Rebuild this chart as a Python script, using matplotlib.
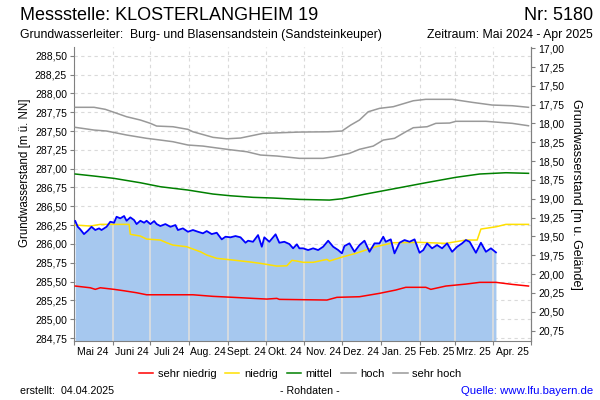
import numpy as np
import matplotlib
matplotlib.use("Agg")
import matplotlib.pyplot as plt

plt.rcParams['font.family'] = ['Liberation Sans', 'DejaVu Sans']

# ── Data (day offset from 01.05.2024, level in m ü. NN) ─────────────────
START = np.datetime64('2024-05-01')
GROUND = 305.60   # Geländehöhe, right axis = GROUND - level

messwert_d = [1, 3, 5, 8, 11, 14, 17, 20, 22, 26, 29, 32, 34, 37, 40, 42, 45, 48, 50, 53,
              56, 58, 61, 64, 66, 69, 73, 77, 81, 83, 87, 91, 95, 99, 103, 106, 110, 114, 118, 121,
              125, 129, 133, 137, 139, 143, 147, 150, 152, 156, 161, 164, 168, 172, 175, 178, 180, 183, 187, 191,
              195, 199, 203, 207, 211, 214, 216, 220, 224, 228, 232, 236, 240, 244, 247, 249, 253, 256, 260, 264,
              268, 272, 276, 279, 282, 286, 290, 294, 298, 302, 306, 310, 313, 316, 321, 325, 329, 333, 337]
messwert = [286.304, 286.228, 286.194, 286.131, 286.175, 286.228, 286.185, 286.207, 286.185, 286.228,
            286.295, 286.282, 286.361, 286.340, 286.371, 286.308, 286.353, 286.317, 286.264, 286.308,
            286.282, 286.308, 286.264, 286.304, 286.264, 286.238, 286.264, 286.228, 286.251, 286.185,
            286.207, 286.162, 286.185, 286.162, 286.141, 286.171, 286.131, 286.149, 286.061, 286.096,
            286.088, 286.105, 286.088, 286.016, 286.043, 286.029, 286.118, 285.963, 286.088, 286.029,
            286.128, 286.016, 286.029, 285.999, 285.942, 285.995, 285.942, 285.942, 285.919, 285.942,
            285.919, 285.963, 286.043, 285.963, 285.919, 285.875, 285.972, 286.008, 285.896, 285.985,
            286.043, 285.896, 286.008, 286.008, 286.096, 286.029, 286.061, 285.875, 286.016, 286.052,
            286.029, 286.061, 285.883, 285.919, 286.008, 285.942, 285.985, 285.942, 286.008, 285.896,
            285.963, 286.008, 286.052, 286.029, 285.883, 286.016, 285.896, 285.942, 285.888]

sehr_niedrig_d = [1, 13, 17, 21, 32, 40, 50, 58, 95, 111, 127, 143, 154, 162, 164, 202, 210, 228,
                  244, 257, 265, 281, 285, 297, 313, 324, 337, 350, 363]
sehr_niedrig = [285.441, 285.418, 285.397, 285.418, 285.397, 285.378, 285.352, 285.325, 285.325,
                285.304, 285.291, 285.277, 285.268, 285.277, 285.264, 285.255, 285.291, 285.299,
                285.344, 285.388, 285.424, 285.424, 285.397, 285.441, 285.467, 285.490, 285.490,
                285.463, 285.441]

niedrig_d = [1, 13, 21, 44, 45, 53, 58, 69, 74, 79, 90, 101, 106, 114, 127, 141, 149, 162, 170, 174,
             178, 183, 191, 202, 204, 215, 225, 233, 241, 255, 276, 297, 313, 322, 325, 337, 345, 363]
niedrig = [286.251, 286.238, 286.260, 286.260, 286.128, 286.105, 286.065, 286.052, 286.016, 285.985,
           285.963, 285.896, 285.853, 285.809, 285.786, 285.760, 285.742, 285.706, 285.710, 285.782,
           285.773, 285.756, 285.756, 285.795, 285.773, 285.830, 285.875, 285.919, 285.963, 286.016,
           286.021, 286.008, 286.052, 286.052, 286.198, 286.228, 286.260, 286.260]

mittel_d = [1, 16, 32, 53, 69, 91, 111, 125, 143, 159, 180, 204, 214, 233, 260, 281, 305, 324, 345, 363]
mittel = [286.929, 286.902, 286.871, 286.813, 286.760, 286.716, 286.663, 286.640, 286.619, 286.610,
          286.592, 286.583, 286.600, 286.663, 286.747, 286.813, 286.885, 286.929, 286.946, 286.938]

hoch_d = [1, 16, 26, 42, 58, 69, 79, 91, 103, 122, 138, 149, 162, 180, 199, 207, 220, 228, 239, 247,
          256, 265, 271, 282, 289, 300, 305, 329, 350, 363]
hoch = [287.549, 287.513, 287.500, 287.447, 287.403, 287.380, 287.358, 287.314, 287.300, 287.257,
        287.225, 287.181, 287.168, 287.137, 287.137, 287.158, 287.203, 287.257, 287.300, 287.380,
        287.403, 287.490, 287.544, 287.557, 287.602, 287.606, 287.629, 287.629, 287.602, 287.570]

sehr_hoch_d = [1, 16, 25, 42, 53, 61, 66, 79, 91, 95, 111, 122, 133, 151, 180, 203, 214, 221, 228,
               235, 244, 255, 271, 281, 302, 318, 334, 350, 363]
sehr_hoch = [287.815, 287.815, 287.788, 287.690, 287.646, 287.602, 287.566, 287.557, 287.522, 287.490,
             287.416, 287.397, 287.407, 287.469, 287.486, 287.490, 287.500, 287.579, 287.646, 287.756,
             287.801, 287.823, 287.902, 287.921, 287.921, 287.881, 287.845, 287.836, 287.815]

month_labels = ["Mai 24", "Juni 24", "Juli 24", "Aug. 24", "Sept. 24", "Okt. 24", "Nov. 24",
                "Dez. 24", "Jan. 25", "Feb. 25", "Mrz. 25", "Apr. 25"]


def to_dates(days):
    return START + np.array(days).astype('timedelta64[D]')


def komma(v, p):
    return f"{v:.2f}".replace('.', ',')


# ── Figure ──────────────────────────────────────────────────────────────
fig = plt.figure(figsize=(6, 4), dpi=100)
ax = fig.add_axes([74/600, 1 - 341/400, (531 - 74)/600, (341 - 47)/400])

ymin, ymax = 284.711, 288.616
month_starts = np.arange(np.datetime64('2024-05'), np.datetime64('2025-06'),
                         np.timedelta64(1, 'M')).astype('datetime64[D]')
month_mids = month_starts[:-1] + (month_starts[1:] - month_starts[:-1]) // 2

# blue fill + measured line
xm = to_dates(messwert_d)
ax.fill_between(xm, messwert, ymin, color='#a6c8ef', lw=0, zorder=1)
# light verticals inside the fill
inner = month_starts[1:-1]
inner = inner[inner <= xm[-1]]
tops = np.interp(inner.astype(float), xm.astype(float), messwert)
ax.vlines(inner, ymin, tops, color='#dedede', lw=1.2, zorder=2)

ax.plot(to_dates(sehr_niedrig_d), sehr_niedrig, color='#ff0000', lw=1.1, zorder=3, label='sehr niedrig')
ax.plot(to_dates(niedrig_d), niedrig, color='#ffe000', lw=1.1, zorder=3, label='niedrig')
ax.plot(to_dates(mittel_d), mittel, color='#008000', lw=1.1, zorder=3, label='mittel')
ax.plot(to_dates(hoch_d), hoch, color='#999999', lw=1.1, zorder=3, label='hoch')
ax.plot(to_dates(sehr_hoch_d), sehr_hoch, color='#999999', lw=1.1, zorder=3, label='sehr hoch')
ax.plot(xm, messwert, color='#0000ff', lw=1.3, zorder=4)

ax.set_xlim(month_starts[0], month_starts[-1])
ax.set_ylim(ymin, ymax)

# axes styling
ax.spines['top'].set_visible(False)
for s in ['left', 'right', 'bottom']:
    ax.spines[s].set_color('#808080')
ax.set_yticks(np.arange(284.75, 288.51, 0.25))
ax.yaxis.set_major_formatter(plt.FuncFormatter(komma))
ax.tick_params(axis='y', labelsize=7.5, length=3, color='#808080', pad=2)
ax.set_xticks(month_starts)
ax.set_xticklabels([])
ax.set_xticks(month_mids, minor=True)
ax.set_xticklabels(month_labels, minor=True)
ax.tick_params(axis='x', which='major', length=3, color='#808080')
ax.tick_params(axis='x', which='minor', length=0, labelsize=7.5, pad=4)
ax.grid(True, which='major', color='#dadada', ls=(0, (3, 3)), lw=0.8, zorder=0)
ax.set_axisbelow(True)
ax.set_ylabel("Grundwasserstand [m ü. NN]", fontsize=8.3, labelpad=4)
ax.yaxis.set_label_coords(-0.095, 0.571)

ax2 = ax.secondary_yaxis('right', functions=(lambda v: GROUND - v, lambda v: GROUND - v))
ax2.set_yticks(np.arange(17.0, 20.76, 0.25))
ax2.yaxis.set_major_formatter(plt.FuncFormatter(komma))
ax2.tick_params(axis='y', labelsize=7.5, length=3, color='#808080', pad=2)
ax2.spines['right'].set_color('#808080')
ax2.set_ylabel("Grundwasserstand [m u. Gelände]", fontsize=9, rotation=270, labelpad=13)

# header
fig.text(20/600, 1 - 15/400, "Messstelle: KLOSTERLANGHEIM 19", fontsize=13, va='center', ha='left')
fig.text(593/600, 1 - 15/400, "Nr: 5180", fontsize=13, va='center', ha='right')
fig.text(20/600, 1 - 35/400, "Grundwasserleiter:  Burg- und Blasensandstein (Sandsteinkeuper)",
         fontsize=8.8, va='center', ha='left')
fig.text(593/600, 1 - 35/400, "Zeitraum: Mai 2024 - Apr 2025", fontsize=8.8, va='center', ha='right')

# legend + footer
fig.legend(loc='center', bbox_to_anchor=(0.5, 1 - 374/400), ncol=5, frameon=False, fontsize=8,
           handlelength=1.3, handletextpad=0.4, columnspacing=0.8)
fig.text(20/600, 1 - 391/400, "erstellt:  04.04.2025", fontsize=7.7, va='center', ha='left')
fig.text(310/600, 1 - 391/400, "- Rohdaten -", fontsize=7.7, va='center', ha='center')
fig.text(593/600, 1 - 391/400, "Quelle: www.lfu.bayern.de", fontsize=8.2, va='center', ha='right',
         color='#0000ff')

fig.savefig("out.png", dpi=100)
